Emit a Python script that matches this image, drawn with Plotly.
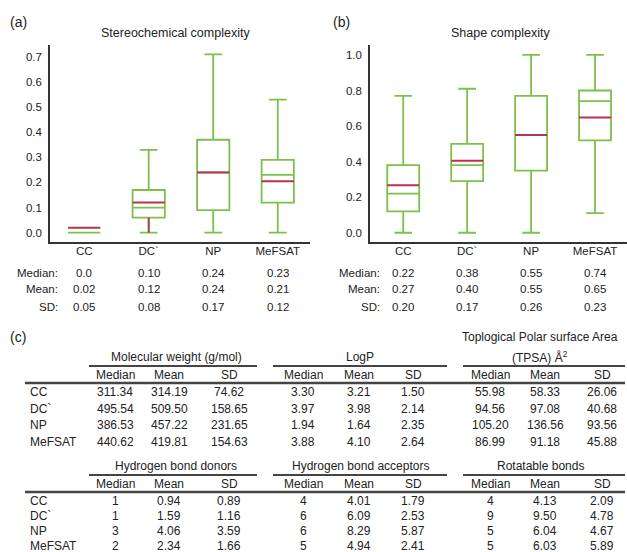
import plotly.graph_objects as go

W, H = 627, 552
FONT = "Liberation Sans, Arial, sans-serif"
TXT = "#222222"
GREEN = "#7cc04b"
RED = "#b8334f"
AXC = "#333333"

categories = ["CC", "DC`", "NP", "MeFSAT"]

# (a) Stereochemical complexity
stereo_min = [0.0, 0.0, 0.0, 0.0]
stereo_q1 = [0.0, 0.06, 0.09, 0.12]
stereo_median = [0.0, 0.10, 0.24, 0.23]
stereo_q3 = [0.0, 0.17, 0.37, 0.29]
stereo_max = [0.0, 0.33, 0.71, 0.53]
stereo_mean = [0.02, 0.12, 0.24, 0.205]
stereo_median_lbl = ["0.0", "0.10", "0.24", "0.23"]
stereo_mean_lbl = ["0.02", "0.12", "0.24", "0.21"]
stereo_sd_lbl = ["0.05", "0.08", "0.17", "0.12"]

# (b) Shape complexity
shape_min = [0.0, 0.0, 0.0, 0.11]
shape_q1 = [0.12, 0.29, 0.35, 0.52]
shape_median = [0.22, 0.38, 0.55, 0.74]
shape_q3 = [0.38, 0.50, 0.77, 0.80]
shape_max = [0.77, 0.81, 1.0, 1.0]
shape_mean = [0.267, 0.405, 0.55, 0.648]
shape_median_lbl = ["0.22", "0.38", "0.55", "0.74"]
shape_mean_lbl = ["0.27", "0.40", "0.55", "0.65"]
shape_sd_lbl = ["0.20", "0.17", "0.26", "0.23"]

# (c) tables
mw_median = [311.34, 495.54, 386.53, 440.62]
mw_mean = [314.19, 509.50, 457.22, 419.81]
mw_sd = [74.62, 158.65, 231.65, 154.63]
logp_median = [3.30, 3.97, 1.94, 3.88]
logp_mean = [3.21, 3.98, 1.64, 4.10]
logp_sd = [1.50, 2.14, 2.35, 2.64]
tpsa_median = [55.98, 94.56, 105.20, 86.99]
tpsa_mean = [58.33, 97.08, 136.56, 91.18]
tpsa_sd = [26.06, 40.68, 93.56, 45.88]
hbd_median = [1, 1, 3, 2]
hbd_mean = [0.94, 1.59, 4.06, 2.34]
hbd_sd = [0.89, 1.16, 3.59, 1.66]
hba_median = [4, 6, 6, 5]
hba_mean = [4.01, 6.09, 8.29, 4.94]
hba_sd = [1.79, 2.53, 5.87, 2.41]
rot_median = [4, 9, 5, 5]
rot_mean = [4.13, 9.50, 6.04, 6.03]
rot_sd = [2.09, 4.78, 4.67, 5.89]


def px(x):
    return x / W


def py(y):
    return 1 - y / H


def fmt(v):
    return str(v) if isinstance(v, int) else f"{v:.2f}"


fig = go.Figure()
pos = list(range(len(categories)))
BW = 0.5

panels = [
    ("x", "y", stereo_min, stereo_q1, stereo_median, stereo_q3, stereo_max, stereo_mean),
    ("x2", "y2", shape_min, shape_q1, shape_median, shape_q3, shape_max, shape_mean),
]
for xa, ya, mn, q1, med, q3, mx, mean in panels:
    fig.add_trace(go.Box(
        x=pos, q1=q1, median=med, q3=q3, lowerfence=mn, upperfence=mx,
        width=BW, whiskerwidth=0.55, fillcolor="rgba(0,0,0,0)",
        line=dict(color=GREEN, width=1.8), boxpoints=False,
        showlegend=False, hoverinfo="skip", xaxis=xa, yaxis=ya))
    xs, ys = [], []
    for i, m in zip(pos, mean):
        xs += [i - BW / 2, i + BW / 2, None]
        ys += [m, m, None]
    fig.add_trace(go.Scatter(x=xs, y=ys, mode="lines",
                             line=dict(color=RED, width=2),
                             showlegend=False, hoverinfo="skip",
                             xaxis=xa, yaxis=ya))

# red lower whisker of DC` in panel (a)
fig.add_trace(go.Scatter(x=[pos[1], pos[1]], y=[stereo_min[1], stereo_q1[1]],
                         mode="lines", line=dict(color=RED, width=1.8),
                         showlegend=False, hoverinfo="skip"))

common_x = dict(tickvals=pos, ticktext=categories, showline=True, linecolor=AXC,
                linewidth=1.5, showgrid=False, zeroline=False, ticks="",
                ticklabelstandoff=-3,
                tickfont=dict(size=11.5, color=TXT, family=FONT))
common_y = dict(showline=True, linecolor=AXC, linewidth=1.5, showgrid=False,
                zeroline=False, ticks="", tickformat=".1f", ticklabelstandoff=4,
                tickfont=dict(size=11.5, color=TXT, family=FONT))

fig.update_layout(
    width=W, height=H, margin=dict(l=0, r=0, t=0, b=0),
    paper_bgcolor="white", plot_bgcolor="white",
    font=dict(family=FONT, color=TXT),
    xaxis=dict(domain=[px(50), px(310)], range=[-0.53, 3.5], anchor="y", **common_x),
    yaxis=dict(domain=[py(242), py(45)], range=[-0.037, 0.747], anchor="x",
               tickvals=[0, 0.1, 0.2, 0.3, 0.4, 0.5, 0.6, 0.7], **common_y),
    xaxis2=dict(domain=[px(370), 1.0], range=[-0.52, 3.5], anchor="y2", **common_x),
    yaxis2=dict(domain=[py(242), py(45)], range=[-0.052, 1.056], anchor="x2",
                tickvals=[0, 0.2, 0.4, 0.6, 0.8, 1.0], **common_y),
)

ann = []


def text(x, y, s, size=12, xanchor="center", xref="paper"):
    ann.append(dict(x=x, y=y, xref=xref, yref="paper", text=s, showarrow=False,
                    xanchor=xanchor, yanchor="middle",
                    font=dict(size=size, color=TXT, family=FONT)))


# panel labels and titles
text(px(8), py(22), "(a)", size=14, xanchor="left")
text(px(175), py(33), "Stereochemical complexity", size=12.5)
text(px(331), py(22), "(b)", size=14, xanchor="left")
text(px(500), py(33), "Shape complexity", size=12.5)

# stats under panels
row_y = [273, 289, 307]
row_names = ["Median:", "Mean:", "SD:"]
for xr, label_x, lists in [("x", 60, (stereo_median_lbl, stereo_mean_lbl, stereo_sd_lbl)),
                           ("x2", 382, (shape_median_lbl, shape_mean_lbl, shape_sd_lbl))]:
    for ry, rn, vals in zip(row_y, row_names, lists):
        text(px(label_x), py(ry), rn, size=11.5, xanchor="right")
        for i, v in zip(pos, vals):
            text(i, py(ry), v, size=11.5, xref=xr)

# tables
shapes = []


def hline(x0, x1, y, w):
    shapes.append(dict(type="line", xref="paper", yref="paper", x0=px(x0), x1=px(x1),
                       y0=py(y), y1=py(y), line=dict(color="#444444", width=w)))


col_x = [115, 169, 229, 303, 359, 413, 490, 545, 602]
group_x = [(89, 257), (273, 447), (463, 625)]
group_center = [176, 360, 540]
sub_names = ["Median", "Mean", "SD"]

text(px(8), py(337), "(c)", size=14, xanchor="left")

tables = [
    dict(top=357, step=16.5, titles=["Molecular weight (g/mol)", "LogP", "(TPSA) Å<sup>2</sup>"],
         cols=[mw_median, mw_mean, mw_sd, logp_median, logp_mean, logp_sd,
               tpsa_median, tpsa_mean, tpsa_sd]),
    dict(top=466, step=15, titles=["Hydrogen bond donors", "Hydrogen bond acceptors", "Rotatable bonds"],
         cols=[hbd_median, hbd_mean, hbd_sd, hba_median, hba_mean, hba_sd,
               rot_median, rot_mean, rot_sd]),
]
text(px(540), py(337), "Toplogical Polar surface Area", size=12)

for t in tables:
    top = t["top"]
    for gc, title in zip(group_center, t["titles"]):
        text(px(gc), py(top), title, size=12)
    for x0, x1 in group_x:
        hline(x0, x1, top + 9, 2)
    for j, cx in enumerate(col_x):
        text(px(cx), py(top + 18), sub_names[j % 3], size=12)
    hline(25, 625, top + 26, 2.5)
    for r, cat in enumerate(categories):
        ry = top + 35 + t["step"] * r
        text(px(28), py(ry), cat, size=12, xanchor="left")
        for cx, col in zip(col_x, t["cols"]):
            text(px(cx), py(ry), fmt(col[r]), size=12)

fig.update_layout(annotations=ann, shapes=shapes)
fig.write_html("out.html", config={"displayModeBar": False},
               post_script="document.body.style.margin='0';document.body.style.overflow='hidden';")
